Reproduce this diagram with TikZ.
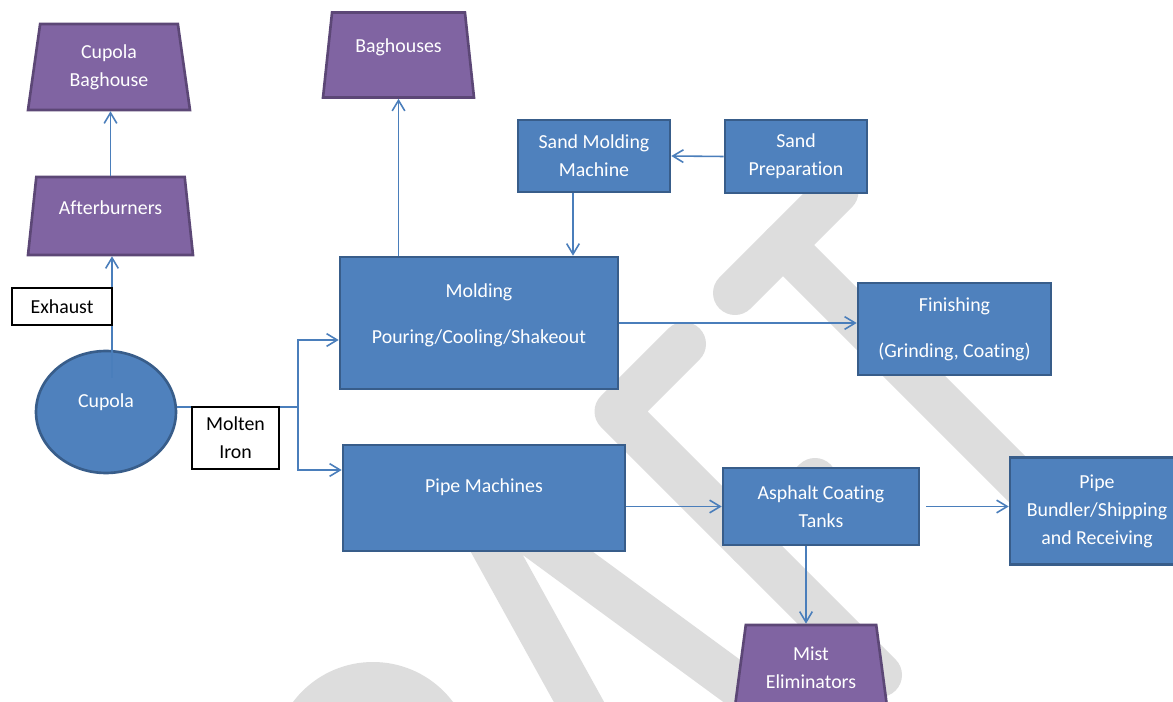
\documentclass[tikz,border=0pt]{standalone}
\usepackage{fontspec}
\setmainfont{Carlito}[Ligatures=NoCommon]
\usepackage{xcolor}
\usetikzlibrary{arrows.meta, positioning, shapes.geometric, calc}

\definecolor{boxblue}{HTML}{4F81BD}
\definecolor{boxedge}{HTML}{385D8A}
\definecolor{hoodfill}{HTML}{8064A2}
\definecolor{hoodedge}{HTML}{5C4776}
\definecolor{wire}{HTML}{4A7EBB}
\definecolor{wmark}{RGB}{221,221,221}

\begin{document}
\begin{tikzpicture}[
  x=0.02cm, y=-0.02cm,
  font=\fontsize{11.3}{15.9}\selectfont,
  proc/.style={draw=boxedge, fill=boxblue, line width=1.5pt, text=white, align=center, inner sep=2pt},
  hood/.style={trapezium, trapezium stretches body=true, trapezium angle=76, draw=hoodedge, fill=hoodfill, line width=1.5pt, text=white, align=center, inner sep=1pt},
  tag/.style={draw=black, fill=white, line width=0.6pt, align=center, inner sep=2pt},
  pipe/.style={draw=wire, line width=0.9pt},
  flow/.style={pipe, -{Straight Barb[length=6pt,width=7.2pt]}},
  wmstroke/.style={draw=wmark, line width=0.88cm, line cap=round, line join=round}
]
\useasboundingbox (0,0) rectangle (1173,702);
\fill[white] (0,0) rectangle (1173,702);

% watermark letters behind everything
\begin{scope}
  \clip (0,0) rectangle (1173,702);
  \draw[wmstroke] (735,293) -- (836.5,191.5);
  \draw[wmstroke] (783,245) -- (1046,508);
  \draw[wmstroke] (684,344) -- (616.5,411.5) -- (880,675);
  \draw[wmstroke] (750,545) -- (815,480);
  \draw[wmstroke] (600,740) -- (455,478) -- (811,739);
  \fill[wmark] (373,762) circle [radius=100];
\end{scope}

% emission control on the left
\node[hood, minimum width=3.24cm, minimum height=1.72cm] (cbag) at (109,67) {Cupola\\Baghouse};
\node[hood, minimum width=3.3cm, minimum height=1.56cm, text depth=9.1pt] (after) at (110.5,216) {Afterburners};
\node[proc, ellipse, inner sep=0pt, minimum width=2.8cm, minimum height=2.44cm, text depth=12.5pt] (cupola) at (106,412) {Cupola};
\coordinate (exh) at (112,378);
\coordinate (split) at (298,407);
\draw[flow] (exh) -- (exh |- after.south);
\draw[flow] (after.north) -- (after.north |- cbag.south);
\draw[pipe] (cupola.east |- split) -- (split);
\node[tag, minimum width=2cm, minimum height=0.74cm] (exhaust) at (62,306.5) {Exhaust};
\node[tag, minimum width=1.74cm, minimum height=1.24cm] (molten) at (235.5,438) {Molten\\Iron};

% molding line
\node[hood, minimum width=3.02cm, minimum height=1.7cm, text depth=10.8pt] (bag) at (398.5,55) {Baghouses};
\node[proc, minimum width=3.04cm, minimum height=1.44cm] (sandmold) at (594,156) {Sand Molding\\Machine};
\node[proc, minimum width=2.84cm, minimum height=1.46cm] (sandprep) at (796,156.5) {Sand\\Preparation};
\node[proc, minimum width=5.56cm, minimum height=2.64cm, text depth=13.9pt] (molding) at (479,323)
  {\begin{tabular}[b]{@{}c@{}}Molding\\[10.2pt]Pouring/Cooling/Shakeout\end{tabular}};
\node[proc, minimum width=3.86cm, minimum height=1.84cm] (finish) at (954.5,329) {Finishing\\[10.2pt](Grinding, Coating)};
\coordinate (drop) at (573,0);
\draw[flow] (split) |- ($(molding.west)+(0,17)$);
\draw[flow] (molding.north -| bag.south) -- (bag.south);
\draw[flow] (sandprep.west) -- (sandmold.east);
\draw[flow] (sandmold.south -| drop) -- (molding.north -| drop);
\draw[flow] (molding.east) -- (molding.east -| finish.west);

% pipe line
\node[proc, minimum width=5.64cm, minimum height=2.12cm, text depth=13.7pt] (pipem) at (484,498) {Pipe Machines};
\node[proc, minimum width=3.92cm, minimum height=1.54cm] (asphalt) at (821,506.5) {Asphalt Coating\\Tanks};
\node[proc, minimum width=3.48cm, minimum height=2.14cm] (bundler) at (1097,511) {Pipe\\Bundler/Shipping\\and Receiving};
\node[hood, minimum width=3.06cm, minimum height=1.7cm] (mist) at (811,667.5) {Mist\\Eliminators};
\coordinate (mdrop) at (806,0);
\draw[flow] (split) |- ($(pipem.west)+(0,-28)$);
\draw[flow] (pipem.east |- asphalt.west) -- (asphalt.west);
\draw[flow, shorten <=3.4pt] (asphalt.east) -- (asphalt.east -| bundler.west);
\draw[flow] (asphalt.south -| mdrop) -- (mist.north -| mdrop);
\end{tikzpicture}
\end{document}
